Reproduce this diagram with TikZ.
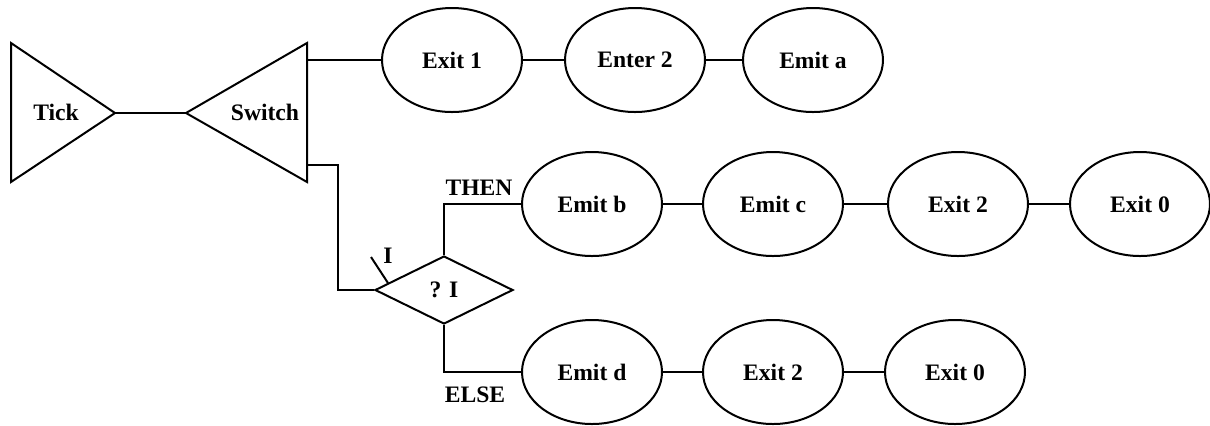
\documentclass[tikz,border=0pt]{standalone}
\usepackage{fontspec}
\setmainfont{Liberation Serif}
\usetikzlibrary{shapes.geometric,calc}
\tikzset{
  lbl/.style={font=\fontsize{11.8pt}{13pt}\selectfont\bfseries, inner sep=0pt},
  oval/.style={draw, ellipse, line width=1pt, minimum width=70pt, minimum height=52pt, inner sep=0pt, lbl},
  cond/.style={draw, diamond, line width=1pt, minimum width=69pt, minimum height=34pt, inner sep=0pt, lbl},
  wire/.style={line width=1pt},
  tri/.style={draw, line width=1pt, line join=miter}
}
\begin{document}
\begin{tikzpicture}[x=0.5pt, y=-0.5pt]
\useasboundingbox (0,0) rectangle (1210,425);
% triangles
\coordinate (tickA) at (11,43);
\coordinate (tickB) at (11,182);
\coordinate (ticktip) at (115,113);
\coordinate (swtip) at (186,113);
\coordinate (swA) at (307,43);
\coordinate (swB) at (307,182);
\draw[tri] (tickA) -- (tickB) -- (ticktip) -- cycle;
\draw[tri] (swtip) -- (swA) -- (swB) -- cycle;
\node[lbl] (tick) at (56,112) {Tick};
\node[lbl] (switch) at (265,112) {Switch};
\coordinate (swout1) at (307,60);
\coordinate (swout2) at (307,165);
% top row
\node[oval] (e1) at (452,60) {Exit 1};
\node[oval] (e2) at (635,60) {Enter 2};
\node[oval] (e3) at (813,60) {Emit a};
% middle row
\node[oval] (b1) at (592,204) {Emit b};
\node[oval] (b2) at (773,204) {Emit c};
\node[oval] (b3) at (958,204) {Exit 2};
\node[oval] (b4) at (1140,204) {Exit 0};
% bottom row
\node[oval] (d1) at (592,372) {Emit d};
\node[oval] (d2) at (773,372) {Exit 2};
\node[oval] (d3) at (955,372) {Exit 0};
% diamond
\node[cond] (q) at (444,290) {? I};
% connectors
\draw[wire] (ticktip) -- (swtip);
\draw[wire] (swout1) -- (e1.west);
\draw[wire] (e1) -- (e2);
\draw[wire] (e2) -- (e3);
\draw[wire] (swout2) -- ++(31,0) |- (q.west);
\draw[wire] (q.north) |- (b1.west);
\draw[wire] (q.south) |- (d1.west);
\draw[wire] (b1) -- (b2);
\draw[wire] (b2) -- (b3);
\draw[wire] (b3) -- (b4);
\draw[wire] (d1) -- (d2);
\draw[wire] (d2) -- (d3);
\coordinate (itick) at ($(q.west)!0.2!(q.north)$);
\draw[wire] (itick) -- ++(-17,-26);
% labels
\node[lbl] (ilbl) at (388,256) {I};
\node[lbl] (then) at (479,188) {THEN};
\node[lbl] (else) at (475,395) {ELSE};
\end{tikzpicture}
\end{document}
